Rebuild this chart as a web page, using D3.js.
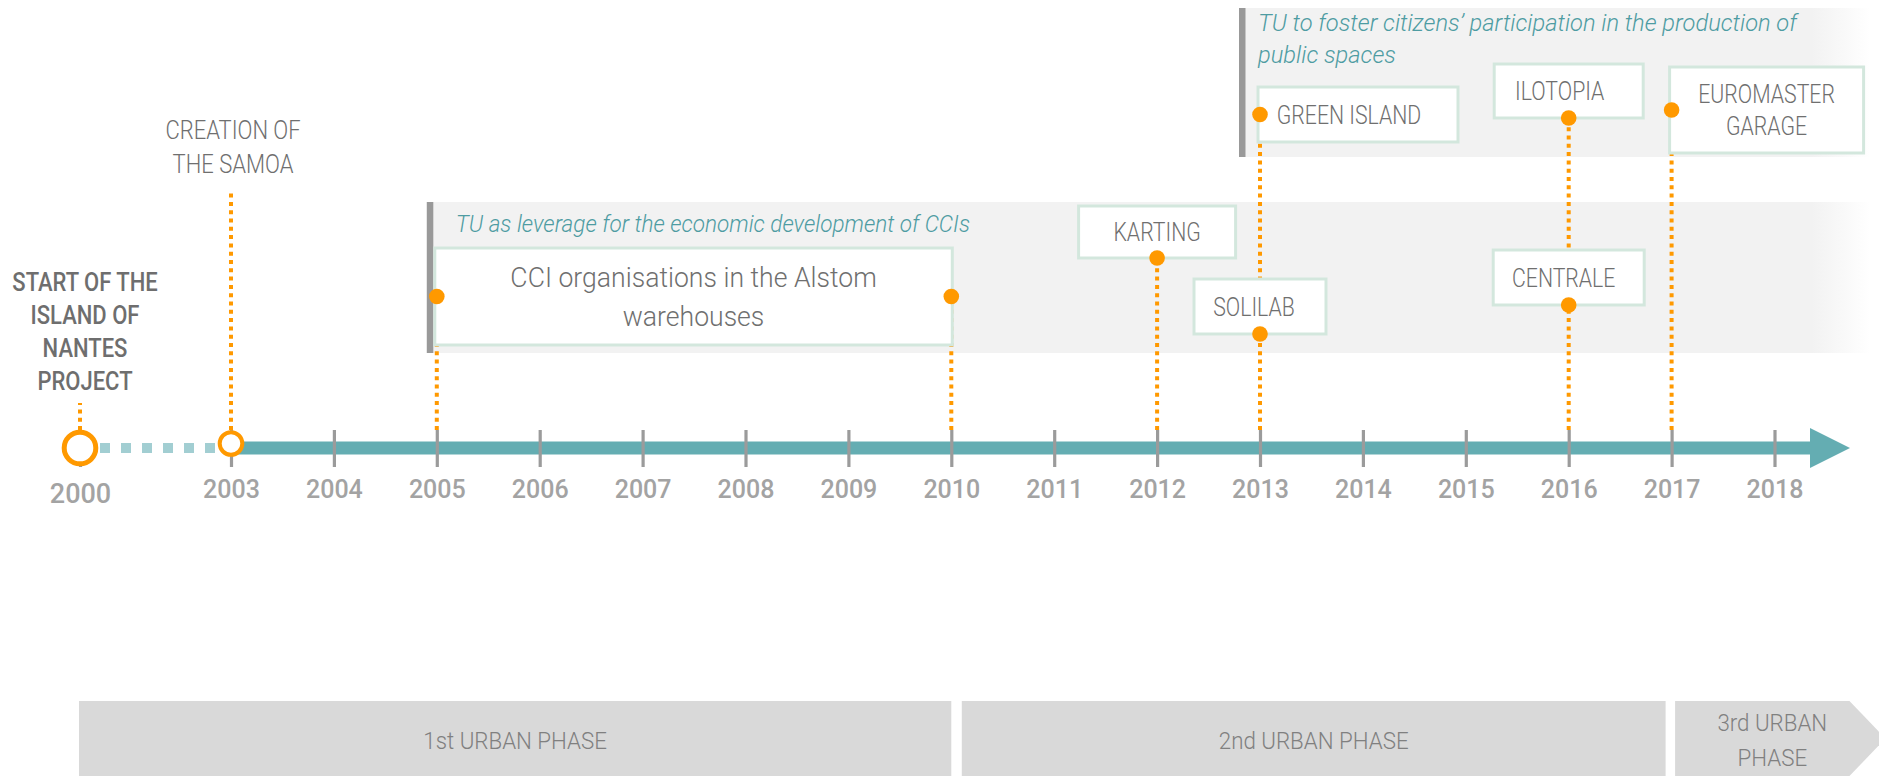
<!DOCTYPE html>
<html>
<head>
<meta charset="utf-8">
<script src="https://cdn.jsdelivr.net/npm/d3@7"></script>
<style>
  body { margin: 0; background: #fff; }
  svg { display: block; font-family: Roboto, "Noto Sans", sans-serif; }
</style>
</head>
<body>
<div id="chart"></div>
<script>
var tickYears = [2000, 2003, 2004, 2005, 2006, 2007, 2008, 2009, 2010, 2011, 2012, 2013, 2014, 2015, 2016, 2017, 2018];

var milestoneYears = [2000, 2003];
var milestoneLabels = [
	["START OF THE", "ISLAND OF", "NANTES", "PROJECT"],
	["CREATION OF", "THE SAMOA"]
];

var bandStart = [2005, 2013];
var bandLabels = [
	["TU as leverage for the economic development of CCIs"],
	["TU to foster citizens\u2019 participation in the production of", "public spaces"]
];

var eventNames = [
	["CCI organisations in the Alstom", "warehouses"],
	["KARTING"],
	["SOLILAB"],
	["GREEN ISLAND"],
	["ILOTOPIA"],
	["CENTRALE"],
	["EUROMASTER", "GARAGE"]
];
var eventStart = [2005, 2012, 2013, 2013, 2016, 2016, 2017];
var eventEnd   = [2010, 2012, 2013, 2013, 2016, 2016, 2017];

var phaseNames = [["1st URBAN PHASE"], ["2nd URBAN PHASE"], ["3rd URBAN", "PHASE"]];
var phaseStart = [2000, 2010, 2017];
var phaseEnd   = [2010, 2017, 2018];

// layout only (pixels), same order as the arrays above
var milestoneLayout = [
	{cy: 448, r: 15.8, sw: 5, lineTop: 403, tx: 85, ty: 291, lh: 33, fs: 25, sq: 0.88, weight: 500, color: "#6e6e6e"},
	{cy: 443.5, r: 11.3, sw: 4, lineTop: 192, tx: 233, ty: 139, lh: 34, fs: 25, sq: 0.88, weight: 300, color: "#6f6f6f"}
];
var bandLayout = [
	{left: -10, top: 202, bottom: 353, tdx: 29, ty: 232, sq: 0.98},
	{left: -21, top: 8, bottom: 157, tdx: 19, ty: 31, sq: 1.03}
];
var boxLayout = [
	{type: "span", top: 248, h: 97, fs: 28, sq: 0.95, lh: 39, tdx: 0},
	{type: "center", w: 157, top: 206, h: 52, tdx: 0},
	{type: "center", w: 132, top: 279, h: 55, tdx: -6},
	{type: "left", w: 200, top: 87, h: 55, tdx: -9},
	{type: "center", w: 149, top: 64, h: 54, tdx: -9},
	{type: "center", w: 151, top: 250, h: 55, tdx: -5},
	{type: "left", w: 194, top: 67, h: 86, lh: 32, tdx: 0}
];
var phasePad = [[-1, 0], [10.5, -6], [3.5, 75]];

var orange = "#ff9900", teal = "#64adb2", boxLine = "#d3e7dd";

function addText(parent, x, y, lines, lh, o) {
	var t = parent.append("text")
	.attr("transform", "translate(" + x + "," + y + ") scale(" + (o.sq || 1) + ",1)")
	.attr("text-anchor", o.anchor || "middle")
	.style("font-size", o.fs + "px")
	.style("font-weight", o.weight || 300)
	.style("font-style", o.italic ? "italic" : "normal")
	.style("fill", o.color || "#777");
	lines.forEach(function(s, i) {
		t.append("tspan").attr("x", 0).attr("y", i * lh).text(s);
	});
	return t;
}

function plot() {
	var width = 1879, height = 776;
	var axisY = 448, tickTop = 430, tickBottom = 467;

	var x = d3.scaleLinear()
	.domain([2000, 2003, 2018])
	.range([80, 231, 1774.5]);

	var svg = d3.select("#chart").append("svg")
	.attr("width", width)
	.attr("height", height);

	var grad = svg.append("defs").append("linearGradient")
	.attr("id", "fade")
	.attr("gradientUnits", "userSpaceOnUse")
	.attr("x1", 1812).attr("x2", 1870).attr("y1", 0).attr("y2", 0);
	grad.append("stop").attr("offset", 0).attr("stop-color", "#f2f2f2");
	grad.append("stop").attr("offset", 1).attr("stop-color", "#ffffff");

	// bands
	bandStart.forEach(function(y, i) {
		var L = bandLayout[i], bx = x(y) + L.left;
		svg.append("rect")
		.attr("x", bx).attr("y", L.top)
		.attr("width", 1870 - bx).attr("height", L.bottom - L.top)
		.style("fill", "url(#fade)");
		svg.append("rect")
		.attr("x", bx).attr("y", L.top)
		.attr("width", 6.5).attr("height", L.bottom - L.top)
		.style("fill", "#999");
		addText(svg, bx + L.tdx, L.ty, bandLabels[i], 32,
			{anchor: "start", fs: 23, sq: L.sq, italic: true, color: "#4e9ca2"});
	});

	// dotted leaders, one per year, from the highest mark down to the ticks
	var leaderTop = {};
	function addLeader(xp, top) {
		if (!(xp in leaderTop) || top < leaderTop[xp]) leaderTop[xp] = top;
	}
	milestoneYears.forEach(function(y, i) { addLeader(x(y), milestoneLayout[i].lineTop); });
	eventStart.forEach(function(y, i) {
		var L = boxLayout[i];
		var dy = L.type == "center" ? L.top + L.h : L.top + L.h / 2;
		addLeader(x(y), dy);
		addLeader(x(eventEnd[i]), dy);
	});
	svg.selectAll(".leader")
	.data(Object.keys(leaderTop))
	.enter().append("line")
	.attr("class", "leader")
	.attr("x1", function(d) { return +d; })
	.attr("x2", function(d) { return +d; })
	.attr("y1", tickTop)
	.attr("y2", function(d) { return leaderTop[d]; })
	.style("stroke", orange)
	.style("stroke-width", 4)
	.style("stroke-dasharray", "4,4.3");

	// event boxes
	var dots = [];
	eventStart.forEach(function(y, i) {
		var L = boxLayout[i], left, right;
		if (L.type == "span") { left = x(y) - 2; right = x(eventEnd[i]) + 1; }
		else if (L.type == "left") { left = x(y) - 2; right = left + L.w; }
		else { left = x(y) - L.w / 2; right = left + L.w; }
		svg.append("rect")
		.attr("x", left).attr("y", L.top)
		.attr("width", right - left).attr("height", L.h)
		.style("fill", "#fff")
		.style("stroke", boxLine)
		.style("stroke-width", 3);
		var fs = L.fs || 25, lh = L.lh || 0, n = eventNames[i].length;
		var ty = L.top + L.h / 2 + fs * 0.36 - (n - 1) * lh / 2;
		addText(svg, (left + right) / 2 + L.tdx, ty, eventNames[i], lh,
			{fs: fs, sq: L.sq || 0.85, color: "#6f6f6f"});
		var dy = L.type == "center" ? L.top + L.h : L.top + L.h / 2;
		dots.push({x: x(y), y: dy});
		if (eventEnd[i] != y) dots.push({x: x(eventEnd[i]), y: dy});
	});
	svg.selectAll(".dot")
	.data(dots)
	.enter().append("circle")
	.attr("class", "dot")
	.attr("cx", function(d) { return d.x; })
	.attr("cy", function(d) { return d.y; })
	.attr("r", 7.8)
	.style("fill", orange);

	// dashed lead-in 2000 -> 2003
	svg.append("line")
	.attr("x1", x(2000) + 20).attr("x2", x(2003) - 12)
	.attr("y1", axisY).attr("y2", axisY)
	.style("stroke", "#a2ced2")
	.style("stroke-width", 10)
	.style("stroke-dasharray", "10,11");

	// main axis + arrow
	var xEnd = x(2018) + 35.5;
	svg.append("line")
	.attr("x1", x(2003)).attr("x2", xEnd)
	.attr("y1", axisY).attr("y2", axisY)
	.style("stroke", teal)
	.style("stroke-width", 13);
	svg.append("path")
	.attr("d", "M" + xEnd + "," + (axisY - 20) + "L" + (xEnd + 40) + "," + axisY + "L" + xEnd + "," + (axisY + 20) + "Z")
	.style("fill", teal);

	var axis = svg.append("g")
	.attr("transform", "translate(0," + tickTop + ")")
	.call(d3.axisBottom(x)
		.tickValues(tickYears)
		.tickSizeInner(tickBottom - tickTop)
		.tickSizeOuter(0)
		.tickFormat(d3.format("d")));
	axis.select(".domain").remove();
	axis.selectAll(".tick line")
	.style("stroke", "#9b9b9b")
	.style("stroke-width", 3.2);
	axis.selectAll(".tick text")
	.attr("y", function(d) { return d == 2000 ? 73 : 68; })
	.attr("dy", 0)
	.style("font-family", "Roboto, sans-serif")
	.style("font-size", function(d) { return d == 2000 ? "27px" : "25px"; })
	.style("font-weight", 500)
	.style("fill", "#a3a3a3");

	// milestone circles + labels
	milestoneYears.forEach(function(y, i) {
		var L = milestoneLayout[i];
		svg.append("circle")
		.attr("cx", x(y)).attr("cy", L.cy).attr("r", L.r)
		.style("fill", "#fff")
		.style("stroke", orange)
		.style("stroke-width", L.sw);
		addText(svg, L.tx, L.ty, milestoneLabels[i], L.lh,
			{fs: L.fs, sq: L.sq, weight: L.weight, color: L.color});
	});

	// urban phases
	var pTop = 701, pH = 75;
	phaseStart.forEach(function(y, i) {
		var x0 = x(y) + phasePad[i][0], x1 = x(phaseEnd[i]) + phasePad[i][1];
		var tip = i == phaseStart.length - 1 ? 36 : 0;
		svg.append("path")
		.attr("d", "M" + x0 + "," + pTop + "H" + x1 + "L" + (x1 + tip) + "," + (pTop + pH / 2) +
			"L" + x1 + "," + (pTop + pH) + "H" + x0 + "Z")
		.style("fill", "#d9d9d9");
		var n = phaseNames[i].length, lh = 35;
		addText(svg, (x0 + x1) / 2 + (tip ? 10 : 0), pTop + pH / 2 + 10 - (n - 1) * lh / 2, phaseNames[i], lh,
			{fs: 24, sq: 0.93, color: "#808080"});
	});
}

document.addEventListener("DOMContentLoaded", function(event) {
	plot();
});
</script>
</body>
</html>
